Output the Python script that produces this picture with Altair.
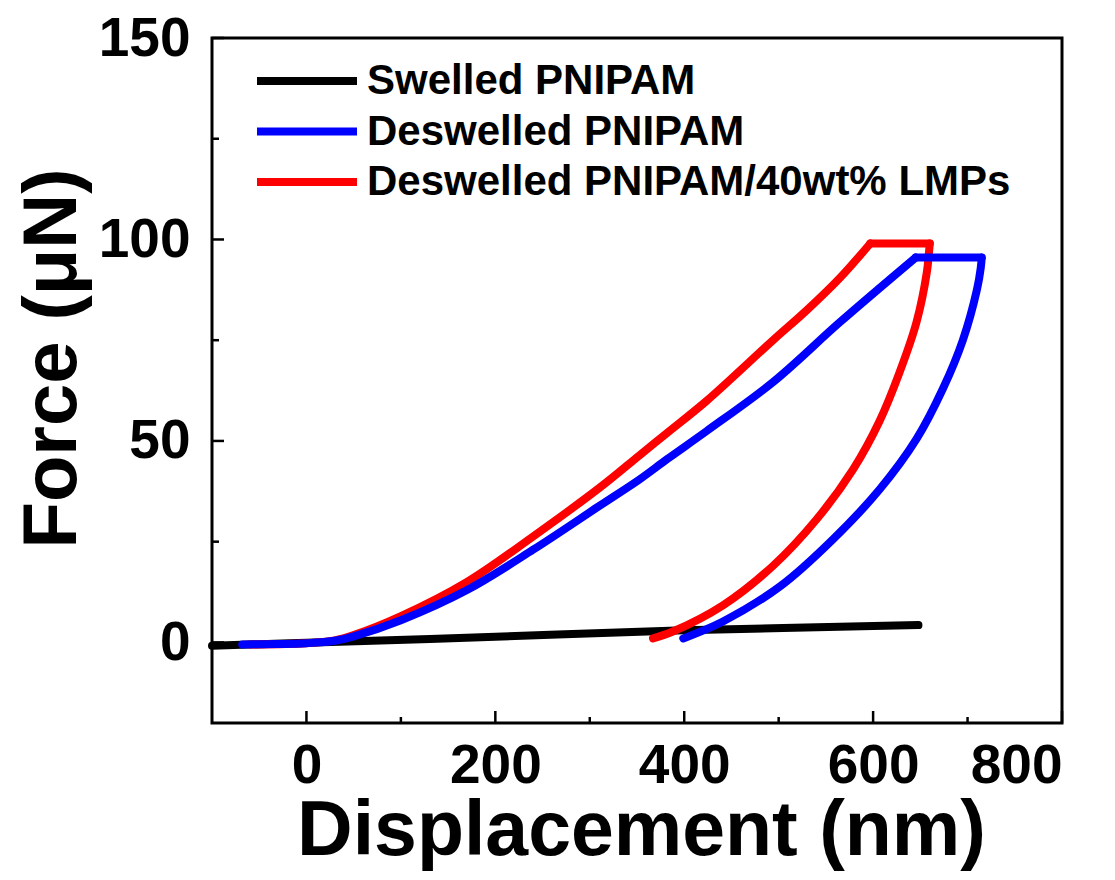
import altair as alt
import pandas as pd

# ---- data ----
series_names = ["Swelled PNIPAM", "Deswelled PNIPAM", "Deswelled PNIPAM/40wt% LMPs"]
series_colors = ["#000000", "#0000FF", "#FF0000"]

swelled_x = [-100, 0, 200, 400, 648]
swelled_y = [-0.8, -0.1, 1.4, 3.0, 4.3]
swelled_seg = [0, 0, 0, 0, 0]

# loading (0), hold (1), unloading (2)
deswelled_x = [-68, -30, 0, 30, 50, 100, 170, 240, 311, 353, 382, 424, 494, 565, 645,
               645, 715,
               715, 714, 710, 695, 674, 646, 607, 558, 502, 441, 399]
deswelled_y = [-0.5, -0.4, -0.2, 0.4, 1.5, 5.5, 13, 23, 34, 40.5, 45.5, 52.5, 64.6, 79.5, 95.5,
               95.5, 95.5,
               95.5, 93.0, 87.6, 75, 63, 50.5, 38, 25.7, 14, 5.2, 1.0]
deswelled_seg = [0] * 15 + [1] * 2 + [2] * 11

lmp_x = [-60, 0, 30, 50, 100, 170, 240, 311, 353, 382, 424, 494, 530, 565, 597,
         597, 660,
         660, 659, 657, 646, 628, 607, 579, 540, 494, 441, 388, 367]
lmp_y = [-0.5, -0.2, 0.5, 1.8, 6.5, 15, 26.3, 38.5, 46.5, 52, 60, 75, 82.5, 90.5, 99,
         99, 99,
         99, 96.5, 92, 79.5, 67, 55, 43, 30.5, 19, 9.2, 2.7, 1.0]
lmp_seg = [0] * 15 + [1] * 2 + [2] * 12

x_major = [0, 200, 400, 600, 800]
x_minor = [100, 300, 500, 700]
y_major = [0, 50, 100, 150]
y_minor = [25, 75, 125]

rows = []
for name, xs, ys, segs in zip(series_names,
                              [swelled_x, deswelled_x, lmp_x],
                              [swelled_y, deswelled_y, lmp_y],
                              [swelled_seg, deswelled_seg, lmp_seg]):
    for i, (xv, yv, sg) in enumerate(zip(xs, ys, segs)):
        rows.append({"series": name, "x": xv, "y": yv, "order": i, "seg": sg})
df = pd.DataFrame(rows)

FONT = "Liberation Sans"
W, H = 850, 685

xscale = alt.Scale(domain=[-100, 800], nice=False, zero=False)
yscale = alt.Scale(domain=[-20, 150], nice=False, zero=False)

color = alt.Color(
    "series:N",
    scale=alt.Scale(domain=series_names, range=series_colors),
    legend=alt.Legend(
        title=None, orient="none", legendX=71, legendY=19,
        symbolType="M-2.5,0H2.5", symbolSize=1600, symbolStrokeWidth=8,
        labelFontSize=42, labelFont=FONT, labelFontWeight="bold", labelColor="black",
        labelOffset=36, rowPadding=5.5, padding=0, labelLimit=0,
    ),
)

xaxis = alt.Axis(
    values=x_major, ticks=False, domain=False, grid=False,
    labelFontSize=55, labelFont=FONT, labelFontWeight="bold", labelColor="black",
    labelPadding=16, title="Displacement (nm)", titleFontSize=77, titleFont=FONT,
    titleFontWeight="bold", titleColor="black", titleX=429, titleY=131,
    titleBaseline="alphabetic", titleAlign="center",
)
yaxis = alt.Axis(
    values=y_major, ticks=False, domain=False, grid=False,
    labelFontSize=55, labelFont=FONT, labelFontWeight="bold", labelColor="black",
    labelPadding=22, title="Force (μN)", titleFontSize=76, titleFont=FONT,
    titleFontWeight="bold", titleColor="black", titleX=-137, titleY=320,
    titleAngle=-90, titleBaseline="alphabetic", titleAlign="center",
)

X = alt.X("x:Q", scale=xscale, axis=xaxis)
Y = alt.Y("y:Q", scale=yscale, axis=yaxis)

base = alt.Chart(df)


def line_layer(name):
    return base.transform_filter(alt.datum.series == name).mark_line(
        strokeWidth=8, strokeCap="round", strokeJoin="round", interpolate="catmull-rom"
    ).encode(x=X, y=Y, color=color, detail="seg:N", order="order:Q")


def xticks(vals, length):
    return alt.Chart(pd.DataFrame({"x": vals})).mark_rule(color="black", strokeWidth=2.5).encode(
        x=X, y=alt.value(H), y2=alt.value(H - length)
    )


def yticks(vals, length):
    return alt.Chart(pd.DataFrame({"y": vals})).mark_rule(color="black", strokeWidth=2.5).encode(
        y=Y, x=alt.value(0), x2=alt.value(length)
    )


chart = alt.layer(
    line_layer(series_names[0]),
    line_layer(series_names[2]),
    line_layer(series_names[1]),
    xticks(x_major, 12), xticks(x_minor, 6),
    yticks(y_major, 12), yticks(y_minor, 7),
).properties(
    width=W, height=H,
    autosize=alt.AutoSizeParams(type="none"),
    padding={"left": 204, "top": 30, "right": 45, "bottom": 149},
    background="white",
).configure_view(stroke="black", strokeWidth=3)

chart.save("out.html", embed_options={"renderer": "svg", "actions": False})
